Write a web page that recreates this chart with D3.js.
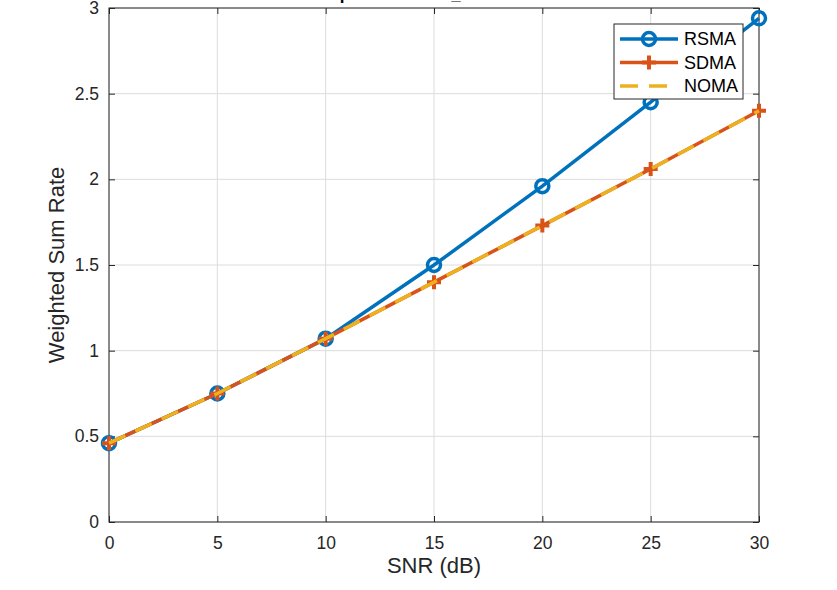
<!DOCTYPE html>
<html>
<head>
<meta charset="utf-8">
<script src="https://cdn.jsdelivr.net/npm/d3@7"></script>
<style>
  body { margin: 0; background: #fff; }
  svg { display: block; font-family: "Liberation Sans", Arial, sans-serif; }
</style>
</head>
<body>
<div id="container"></div>
<script>
// ### DATA ###
const snr = [ 0, 5, 10, 15, 20, 25, 30 ];
const rsma = [ 0.46, 0.75, 1.07, 1.50, 1.96, 2.45, 2.94 ];
const sdma = [ 0.46, 0.75, 1.07, 1.40, 1.73, 2.06, 2.40 ];
const noma = [ 0.46, 0.75, 1.07, 1.40, 1.73, 2.06, 2.40 ];
const xTicks = [ 0, 5, 10, 15, 20, 25, 30 ];
const yTicks = [ 0, 0.5, 1, 1.5, 2, 2.5, 3 ];
const seriesNames = [ 'RSMA', 'SDMA', 'NOMA' ];

// ### LAYOUT ###
const W = 837, H = 590;
const margin = { top: 8, right: 78, bottom: 68, left: 109 };
const width = W - margin.left - margin.right;
const height = H - margin.top - margin.bottom;
const blue = '#0072BD', orange = '#D95319', yellow = '#EDB120';
const axisColor = '#262626';
const lw = 3.5;
const dash = '18,11';

const svg = d3.select( '#container' ).append( 'svg' )
  .attr( 'width', W ).attr( 'height', H );
const g = svg.append( 'g' )
  .attr( 'transform', `translate(${margin.left},${margin.top})` );

// ### SCALES ###
const x = d3.scaleLinear().domain( [ 0, 30 ] ).range( [ 0, width ] );
const y = d3.scaleLinear().domain( [ 0, 3 ] ).range( [ height, 0 ] );

// ### GRID ###
g.append( 'g' ).selectAll( 'line' ).data( xTicks ).enter().append( 'line' )
  .attr( 'x1', d => x( d ) ).attr( 'x2', d => x( d ) )
  .attr( 'y1', 0 ).attr( 'y2', height )
  .attr( 'stroke', '#dcdcdc' ).attr( 'stroke-width', 1 );
g.append( 'g' ).selectAll( 'line' ).data( yTicks ).enter().append( 'line' )
  .attr( 'y1', d => y( d ) ).attr( 'y2', d => y( d ) )
  .attr( 'x1', 0 ).attr( 'x2', width )
  .attr( 'stroke', '#dcdcdc' ).attr( 'stroke-width', 1 );

// ### AXES (ticks inside, box on) ###
function styleAxis ( sel ) {
  sel.select( '.domain' ).remove();
  sel.selectAll( 'line' ).attr( 'stroke', axisColor );
  sel.selectAll( 'text' ).attr( 'fill', axisColor ).style( 'font-size', '17.5px' );
}
g.append( 'g' ).attr( 'transform', `translate(0,${height})` )
  .call( d3.axisBottom( x ).tickValues( xTicks ).tickSizeInner( -6 ).tickSizeOuter( 0 ).tickPadding( 15 ) )
  .call( styleAxis );
g.append( 'g' )
  .call( d3.axisLeft( y ).tickValues( yTicks ).tickFormat( d3.format( '' ) ).tickSizeInner( -6 ).tickSizeOuter( 0 ).tickPadding( 10 ) )
  .call( styleAxis );
g.append( 'g' )
  .call( d3.axisTop( x ).tickValues( xTicks ).tickSizeInner( -6 ).tickSizeOuter( 0 ).tickFormat( '' ) )
  .call( styleAxis );
g.append( 'g' ).attr( 'transform', `translate(${width},0)` )
  .call( d3.axisRight( y ).tickValues( yTicks ).tickSizeInner( -6 ).tickSizeOuter( 0 ).tickFormat( '' ) )
  .call( styleAxis );
g.append( 'rect' )
  .attr( 'width', width ).attr( 'height', height )
  .attr( 'fill', 'none' ).attr( 'stroke', axisColor ).attr( 'stroke-width', 1 );

// ### LABELS ###
g.append( 'text' )
  .attr( 'x', width / 2 ).attr( 'y', height + 51 )
  .attr( 'text-anchor', 'middle' ).attr( 'fill', axisColor )
  .style( 'font-size', '22px' ).text( 'SNR (dB)' );
g.append( 'text' )
  .attr( 'transform', `translate(${-45},${height / 2}) rotate(-90)` )
  .attr( 'text-anchor', 'middle' ).attr( 'fill', axisColor )
  .style( 'font-size', '22px' ).text( 'Weighted Sum Rate' );
// title, cut off by the top edge as in the source figure
g.append( 'text' )
  .attr( 'x', width / 2 ).attr( 'y', -margin.top - 0.5 )
  .attr( 'text-anchor', 'middle' ).attr( 'fill', '#000' )
  .style( 'font-size', '17px' ).style( 'font-weight', 'bold' )
  .text( 'Update the rate_k = 0.5 dB' );

// ### LINES ###
const line = d3.line().x( ( d, i ) => x( snr[ i ] ) ).y( d => y( d ) );
const plus = s => `M${-s},0H${s}M0,${-s}V${s}`;

g.append( 'path' ).datum( rsma ).attr( 'd', line )
  .attr( 'fill', 'none' ).attr( 'stroke', blue ).attr( 'stroke-width', lw );
g.append( 'g' ).selectAll( 'circle' ).data( rsma ).enter().append( 'circle' )
  .attr( 'cx', ( d, i ) => x( snr[ i ] ) ).attr( 'cy', d => y( d ) ).attr( 'r', 6.5 )
  .attr( 'fill', 'none' ).attr( 'stroke', blue ).attr( 'stroke-width', lw );

g.append( 'path' ).datum( sdma ).attr( 'd', line )
  .attr( 'fill', 'none' ).attr( 'stroke', orange ).attr( 'stroke-width', lw );
g.append( 'g' ).selectAll( 'path' ).data( sdma ).enter().append( 'path' )
  .attr( 'transform', ( d, i ) => `translate(${x( snr[ i ] )},${y( d )})` )
  .attr( 'd', plus( 7 ) )
  .attr( 'fill', 'none' ).attr( 'stroke', orange ).attr( 'stroke-width', 4 );

g.append( 'path' ).datum( noma ).attr( 'd', line )
  .attr( 'fill', 'none' ).attr( 'stroke', yellow ).attr( 'stroke-width', lw )
  .attr( 'stroke-dasharray', dash );

// ### LEGEND ###
const legend = svg.append( 'g' ).attr( 'transform', 'translate(614,24)' );
legend.append( 'rect' ).attr( 'width', 129 ).attr( 'height', 75 )
  .attr( 'fill', '#fff' ).attr( 'stroke', axisColor ).attr( 'stroke-width', 1 );
const items = legend.selectAll( '.item' ).data( seriesNames ).enter().append( 'g' )
  .attr( 'transform', ( d, i ) => `translate(0,${15 + i * 23.5})` );
items.append( 'line' )
  .attr( 'x1', 6 ).attr( 'x2', 64 )
  .attr( 'stroke', ( d, i ) => [ blue, orange, yellow ][ i ] )
  .attr( 'stroke-width', lw )
  .attr( 'stroke-dasharray', ( d, i ) => i === 2 ? dash : null );
items.filter( ( d, i ) => i === 0 ).append( 'circle' )
  .attr( 'cx', 35 ).attr( 'r', 6.5 ).attr( 'fill', 'none' )
  .attr( 'stroke', blue ).attr( 'stroke-width', lw );
items.filter( ( d, i ) => i === 1 ).append( 'path' )
  .attr( 'transform', 'translate(35,0)' ).attr( 'd', plus( 7 ) )
  .attr( 'stroke', orange ).attr( 'stroke-width', 4 );
items.append( 'text' )
  .attr( 'x', 70 ).attr( 'dy', '0.36em' ).attr( 'fill', '#000' )
  .style( 'font-size', '18px' ).text( d => d );
</script>
</body>
</html>
